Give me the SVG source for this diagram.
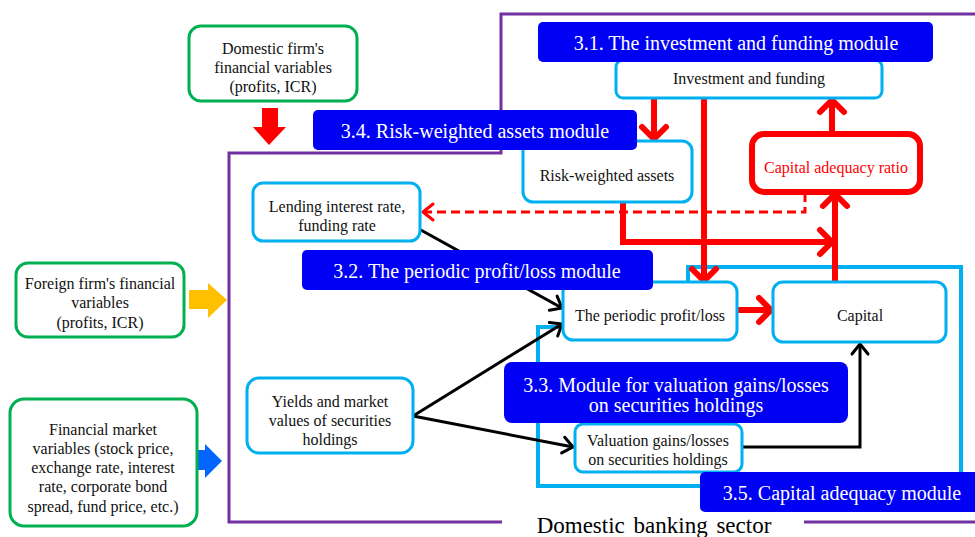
<svg xmlns="http://www.w3.org/2000/svg" width="975" height="537" viewBox="0 0 975 537" font-family="'Liberation Serif', 'DejaVu Serif', serif">
  <style>
    text { font-family: "Liberation Serif", "DejaVu Serif", serif; text-anchor: middle; }
    .node { fill: #FFFFFF; stroke: #00B0F0; stroke-width: 3; }
    .src { fill: #FFFFFF; stroke: #00B050; stroke-width: 3; }
    .lbl { fill: #0000F5; }
    .lbl-t { fill: #FFFFFF; font-size: 20px; }
    .t { fill: #111111; font-size: 16px; }
    .red { fill: none; stroke: #FF0000; stroke-width: 6; }
    .blk { fill: none; stroke: #000000; stroke-width: 3; }
  </style>
  <defs>
    <marker id="redHead" markerUnits="userSpaceOnUse" viewBox="-20 -20 40 40" markerWidth="40" markerHeight="40" refX="0" refY="0" orient="auto" overflow="visible">
      <path d="M-12,-12 L0,0 L-12,12" fill="none" stroke="#FF0000" stroke-width="6" stroke-linecap="round" stroke-linejoin="round"/>
    </marker>
    <marker id="dashHead" markerUnits="userSpaceOnUse" viewBox="-20 -20 40 40" markerWidth="40" markerHeight="40" refX="0" refY="0" orient="auto" overflow="visible">
      <path d="M-10,-8 L0,0 L-10,8" fill="none" stroke="#FF0000" stroke-width="3" stroke-linecap="round" stroke-linejoin="round"/>
    </marker>
    <marker id="blkHead" markerUnits="userSpaceOnUse" viewBox="-20 -20 40 40" markerWidth="40" markerHeight="40" refX="0" refY="0" orient="auto" overflow="visible">
      <path d="M-10,-8 L0,0 L-10,8" fill="none" stroke="#000000" stroke-width="3" stroke-linecap="round" stroke-linejoin="round"/>
    </marker>
  </defs>

  <rect width="975" height="537" fill="#FFFFFF"/>

  <!-- Domestic banking sector frame -->
  <g id="sector-frame" fill="none" stroke="#7030A0" stroke-width="3">
    <path d="M502,522 H229 V153 H501 V14 H975"/>
    <path d="M804,522 H975"/>
  </g>
  <text x="654" y="533" font-size="23" fill="#000000" word-spacing="3">Domestic banking sector</text>

  <!-- Capital adequacy module frame -->
  <path id="cam-frame" d="M688,282 V267 H961 V486 H538 V327 H565" fill="none" stroke="#00B0F0" stroke-width="4"/>

  <!-- Input arrows -->
  <g id="inputs">
    <polygon points="262,108 278,108 278,127 286,127 269,145 253,127 262,127" fill="#FF0000"/>
    <polygon points="189,290 208,290 208,283 227,300 208,318 208,309 189,309" fill="#FFC000"/>
    <polygon points="197,450 205,450 205,444 222,461 205,478 205,470 197,470" fill="#0066FF"/>
  </g>

  <!-- Connectors -->
  <g id="connectors">
    <line class="red" x1="654" y1="98" x2="654" y2="139" marker-end="url(#redHead)"/>
    <line class="red" x1="704" y1="98" x2="704" y2="281" marker-end="url(#redHead)"/>
    <line class="red" x1="832" y1="133" x2="832" y2="100" marker-end="url(#redHead)"/>
    <line class="red" x1="835" y1="281" x2="835" y2="194" marker-end="url(#redHead)"/>
    <path class="red" d="M623,202 V242 H832" marker-end="url(#redHead)"/>
    <line class="red" x1="738" y1="310" x2="771" y2="310" marker-end="url(#redHead)"/>
    <path d="M805,193 V212 H423" fill="none" stroke="#FF0000" stroke-width="3" stroke-dasharray="9,5" marker-end="url(#dashHead)"/>
    <line class="blk" x1="419" y1="229" x2="562" y2="308" marker-end="url(#blkHead)"/>
    <line class="blk" x1="413" y1="416" x2="562" y2="324" marker-end="url(#blkHead)"/>
    <line class="blk" x1="413" y1="416" x2="573" y2="447" marker-end="url(#blkHead)"/>
    <path class="blk" d="M742,447 H860 V344" marker-end="url(#blkHead)"/>
  </g>

  <!-- External variable nodes -->
  <g id="domestic-firm">
    <rect class="src" x="189" y="26" width="168" height="75" rx="12"/>
    <text class="t" x="273" y="54">Domestic firm's</text>
    <text class="t" x="273" y="73">financial variables</text>
    <text class="t" x="273" y="92">(profits, ICR)</text>
  </g>
  <g id="foreign-firm">
    <rect class="src" x="16" y="263" width="168" height="74" rx="12"/>
    <text class="t" x="100" y="289">Foreign firm's financial</text>
    <text class="t" x="100" y="308">variables</text>
    <text class="t" x="100" y="328">(profits, ICR)</text>
  </g>
  <g id="financial-market">
    <rect class="src" x="10" y="399" width="187" height="127" rx="14"/>
    <text class="t" x="103" y="435">Financial market</text>
    <text class="t" x="103" y="454">variables (stock price,</text>
    <text class="t" x="103" y="473">exchange rate, interest</text>
    <text class="t" x="103" y="492">rate, corporate bond</text>
    <text class="t" x="103" y="512">spread, fund price, etc.)</text>
  </g>

  <!-- Banking sector nodes -->
  <g id="investment-funding">
    <rect class="node" x="616" y="60" width="266" height="38" rx="7"/>
    <text class="t" x="749" y="84">Investment and funding</text>
  </g>
  <g id="risk-weighted-assets">
    <rect class="node" x="523" y="141" width="169" height="61" rx="10"/>
    <text class="t" x="607" y="181">Risk-weighted assets</text>
  </g>
  <g id="capital-adequacy-ratio">
    <rect x="752" y="134" width="168" height="58" rx="12" fill="#FFFFFF" stroke="#FF0000" stroke-width="6"/>
    <text x="836" y="173" font-size="16" fill="#FF0000">Capital adequacy ratio</text>
  </g>
  <g id="lending-rate">
    <rect class="node" x="253" y="183" width="167" height="58" rx="10"/>
    <text class="t" x="337" y="212">Lending interest rate,</text>
    <text class="t" x="337" y="231">funding rate</text>
  </g>
  <g id="periodic-pl">
    <rect class="node" x="563" y="282" width="174" height="58" rx="10"/>
    <text class="t" x="650" y="321">The periodic profit/loss</text>
  </g>
  <g id="capital">
    <rect class="node" x="773" y="282" width="173" height="60" rx="10"/>
    <text class="t" x="860" y="321">Capital</text>
  </g>
  <g id="securities-yields">
    <rect class="node" x="247" y="378" width="166" height="75" rx="12"/>
    <text class="t" x="330" y="407">Yields and market</text>
    <text class="t" x="330" y="426">values of securities</text>
    <text class="t" x="330" y="445">holdings</text>
  </g>
  <g id="valuation-gains">
    <rect class="node" x="575" y="424" width="167" height="48" rx="8"/>
    <text class="t" x="658" y="446">Valuation gains/losses</text>
    <text class="t" x="658" y="465">on securities holdings</text>
  </g>

  <!-- Module labels -->
  <g id="module-3-1">
    <rect class="lbl" x="538" y="22" width="395" height="40" rx="5"/>
    <text class="lbl-t" x="736" y="50">3.1. The investment and funding module</text>
  </g>
  <g id="module-3-4">
    <rect class="lbl" x="313" y="110" width="324" height="40" rx="5"/>
    <text class="lbl-t" x="475" y="138">3.4. Risk-weighted assets module</text>
  </g>
  <g id="module-3-2">
    <rect class="lbl" x="302" y="250" width="351" height="40" rx="5"/>
    <text class="lbl-t" x="477" y="278">3.2. The periodic profit/loss module</text>
  </g>
  <g id="module-3-3">
    <rect class="lbl" x="504" y="362" width="344" height="61" rx="8"/>
    <text class="lbl-t" x="676" y="392">3.3. Module for valuation gains/losses</text>
    <text class="lbl-t" x="676" y="412">on securities holdings</text>
  </g>
  <g id="module-3-5">
    <rect class="lbl" x="700" y="472" width="285" height="40" rx="5"/>
    <text class="lbl-t" x="842" y="500">3.5. Capital adequacy module</text>
  </g>
</svg>
